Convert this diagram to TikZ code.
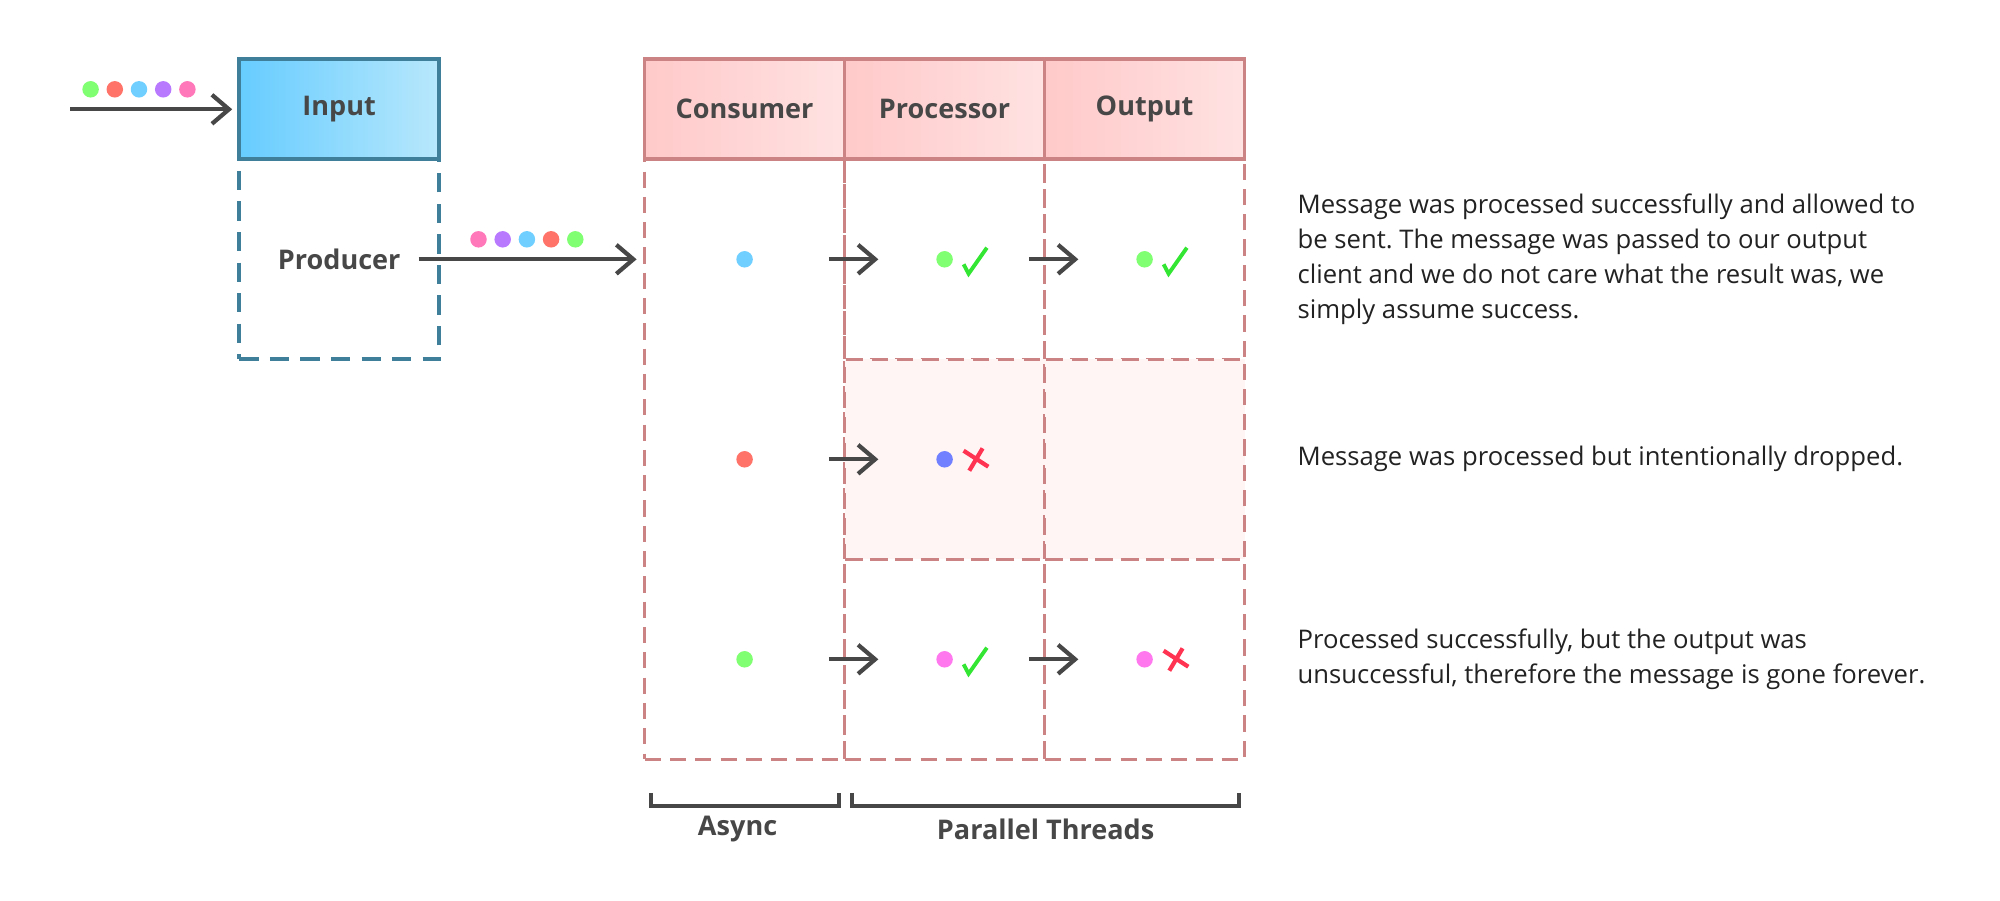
\documentclass[tikz,border=0pt]{standalone}
\usepackage{fontspec}
\setmainfont{Open Sans}
\usepackage{tikz}
\usetikzlibrary{positioning}
\usetikzlibrary{calc}
\usetikzlibrary{arrows.meta}
\definecolor{inborder}{HTML}{3F7F9A}
\definecolor{inleft}{HTML}{66CCFF}
\definecolor{inright}{HTML}{B8E8FC}
\definecolor{tabborder}{HTML}{CC8383}
\definecolor{headleft}{HTML}{FFC9C9}
\definecolor{headright}{HTML}{FFE2E2}
\definecolor{dropfill}{HTML}{FFF5F5}
\definecolor{labelgrey}{HTML}{474747}
\definecolor{notegrey}{HTML}{222222}
\definecolor{okgreen}{HTML}{33E633}
\definecolor{nored}{HTML}{FF3352}
\definecolor{dgreen}{HTML}{80FF72}
\definecolor{dred}{HTML}{FF7369}
\definecolor{dcyan}{HTML}{70CFFF}
\definecolor{dpurple}{HTML}{B979FF}
\definecolor{dpink}{HTML}{FF78B9}
\definecolor{dblue}{HTML}{7080FF}
\definecolor{dmagenta}{HTML}{FF78EE}
% a row of message dots: name, start coordinate, colours
\newcommand\dotrow[3]{%
  \foreach \c [count=\i from 0] in {#3}
    \node[dot,fill=\c] (#1\i) at ($(#2)+(0.242*\i,0)$) {};
}

\begin{document}
\frenchspacing
\begin{tikzpicture}[
node distance=0pt,
every node/.style={outer sep=0pt},
lbl/.style={font=\bfseries\fontsize{7.7}{9}\selectfont, text=labelgrey, inner sep=0pt},
inbox/.style={draw=inborder, line width=1.1pt, left color=inleft, right color=inright,
  minimum width=2cm, minimum height=1cm, lbl},
prodbox/.style={draw=inborder, line width=1.05pt, dash pattern=on 5.5pt off 3.2pt,
  minimum width=2cm, minimum height=2cm},
head/.style={draw=tabborder, line width=1.05pt, left color=headleft, right color=headright,
  minimum width=2cm, minimum height=1cm, lbl},
cellbox/.style={draw=tabborder, line width=1pt, dash pattern=on 4.6pt off 2.6pt,
  minimum width=2cm, minimum height=2cm},
colbox/.style={cellbox, minimum height=6cm},
dot/.style={circle, inner sep=0pt, minimum size=0.165cm},
flow/.style={draw=labelgrey, line width=1.2pt, -{Straight Barb[length=1.7mm,width=2.9mm]}},
rowflow/.style={flow, shorten <=0.76cm, shorten >=0.58cm},
brack/.style={draw=labelgrey, line width=1.1pt},
note/.style={font=\fontsize{7.3}{9.9}\selectfont, text=notegrey, align=left, inner sep=0pt},
chk/.pic={\draw[okgreen, line width=1.1pt] (0.19,-0.05) -- (0.24,-0.144) -- (0.423,0.116);},
crs/.pic={\draw[nored, line width=1.2pt] (0.19,0.086) -- (0.437,-0.074)
  (0.38,0.11) -- (0.247,-0.114);}
]
\useasboundingbox (0,0) rectangle (20,-9);

% input and producer
\node[inbox] (input) at (3.392,-1.093) {Input};
\node[prodbox, below=of input] (prodbox) {};
\node[lbl] (prod) at (prodbox) {Producer};
\coordinate (src) at (0.70,-1.093);
\dotrow{ind}{$(src)+(0.206,0.2)$}{dgreen,dred,dcyan,dpurple,dpink}
\draw[flow, shorten >=0.07cm] (src) -- (input.west);

% table header
\node[head] (hcons) at (7.446,-1.093) {Consumer};
\node[head, right=of hcons] (hproc) {Processor};
\node[head, right=of hproc] (hout) {Output};

% table body
\node[colbox, below=of hcons] (cbody) {};
\node[cellbox, below=of hproc] (p1) {};
\node[cellbox, fill=dropfill, below=of p1] (p2) {};
\node[cellbox, below=of p2] (p3) {};
\node[cellbox, below=of hout] (o1) {};
\node[cellbox, fill=dropfill, below=of o1] (o2) {};
\node[cellbox, below=of o2] (o3) {};

% producer to consumer
\coordinate (pd) at ($(prod.east)+(0.78,0.2)$);
\dotrow{prd}{pd}{dpink,dpurple,dcyan,dred,dgreen}
\draw[flow, shorten <=0.18cm, shorten >=0.08cm] (prod.east) -- (cbody.west |- prod.east);

% messages
\node[dot, fill=dcyan] (c1) at (cbody |- p1) {};
\node[dot, fill=dred] (c2) at (cbody |- p2) {};
\node[dot, fill=dgreen] (c3) at (cbody |- p3) {};
\node[dot, fill=dgreen] (m1) at (p1) {};
\node[dot, fill=dblue] (m2) at (p2) {};
\node[dot, fill=dmagenta] (m3) at (p3) {};
\node[dot, fill=dgreen] (r1) at (o1) {};
\node[dot, fill=dmagenta] (r3) at (o3) {};
\pic at (m1) {chk};
\pic at (m2) {crs};
\pic at (m3) {chk};
\pic at (r1) {chk};
\pic at (r3) {crs};
\draw[rowflow] (c1) -- (m1);
\draw[rowflow] (m1) -- (r1);
\draw[rowflow] (c2) -- (m2);
\draw[rowflow] (c3) -- (m3);
\draw[rowflow] (m3) -- (r3);

% brackets
\draw[brack] ([shift={(0.064,-0.335)}]cbody.south west) -- ++(0,-0.13)
  -| ([shift={(-0.056,-0.335)}]cbody.south east);
\draw[brack] ([shift={(0.074,-0.335)}]p3.south west) -- ++(0,-0.13)
  -| ([shift={(-0.056,-0.335)}]o3.south east);
\node[lbl] (async) at ($(cbody.south)+(-0.07,-0.70)$) {Async};
\node[lbl] (threads) at ($(p3.south east)+(0.01,-0.70)$) {Parallel Threads};

% notes
\node[note, right=0.53cm of o1] (n1) {Message was processed successfully and allowed to\\
  be sent. The message was passed to our output\\
  client and we do not care what the result was, we\\
  simply assume success.};
\node[note, right=0.53cm of o2] (n2) {Message was processed but intentionally dropped.};
\node[note, right=0.53cm of o3] (n3) {Processed successfully, but the output was\\
  unsuccessful, therefore the message is gone forever.};
\end{tikzpicture}
\end{document}
